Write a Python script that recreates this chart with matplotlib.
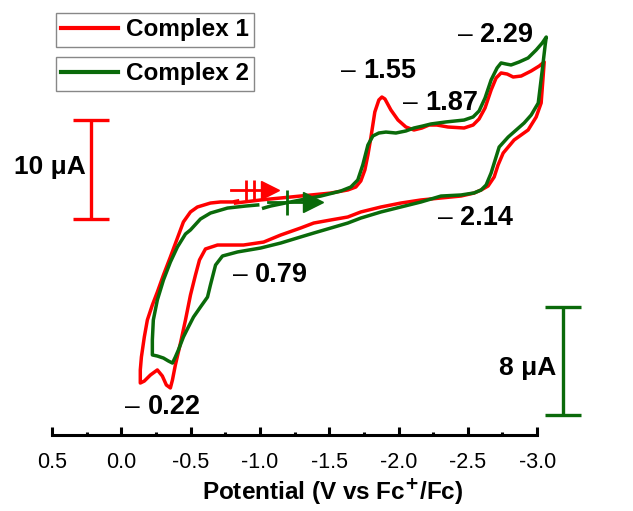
# 循环伏安图复现

import numpy as np
import matplotlib
matplotlib.use('Agg')
import matplotlib.pyplot as plt
from matplotlib.ticker import MultipleLocator

plt.rcParams['font.family'] = ['Liberation Sans', 'DejaVu Sans']

# 1 数据
# Complex 1：电位(V vs Fc+/Fc)与电流(μA)
e1 = [-0.824, -1.005, -1.294, -1.511, -1.634, -1.692, -1.728, -1.757, -1.779, -1.800,
      -1.829, -1.858, -1.880, -1.902, -1.945, -1.996, -2.053, -2.111, -2.169, -2.220,
      -2.277, -2.357, -2.473, -2.538, -2.581, -2.624, -2.668, -2.704, -2.740, -2.784,
      -2.827, -2.885, -2.957, -3.015, -3.051,
      -3.044, -3.029, -2.993, -2.935, -2.834, -2.755, -2.718, -2.690, -2.646, -2.596,
      -2.545, -2.451, -2.306, -2.162, -2.017, -1.873, -1.728, -1.634, -1.511, -1.388,
      -1.294, -1.150, -1.027, -0.882, -0.694, -0.607, -0.564, -0.535, -0.499, -0.463,
      -0.427, -0.390, -0.369, -0.354, -0.325, -0.296, -0.260, -0.210, -0.166, -0.137,
      -0.137, -0.145, -0.166, -0.188, -0.224, -0.260, -0.304, -0.354, -0.405, -0.448,
      -0.499, -0.549, -0.643, -0.716, -0.803, -0.839]
i1 = [23.43, 23.74, 24.14, 24.44, 24.75, 25.05, 25.66, 26.77, 28.28, 30.00,
      32.63, 33.84, 34.14, 33.94, 32.83, 31.82, 31.11, 30.81, 31.01, 31.31,
      31.31, 31.11, 31.01, 31.31, 31.92, 33.03, 34.85, 36.06, 36.57, 36.46,
      36.16, 36.26, 36.77, 37.27, 37.68,
      36.36, 33.54, 32.12, 30.81, 29.80, 28.48, 27.27, 26.06, 25.15, 24.75,
      24.44, 24.14, 23.94, 23.74, 23.43, 23.03, 22.53, 22.02, 21.72, 21.41,
      20.91, 20.20, 19.49, 19.19, 19.19, 18.79, 17.68, 16.16, 14.14, 11.62,
      9.29, 7.07, 5.56, 4.75, 5.05, 5.96, 6.57, 6.06, 5.45, 5.25,
      6.57, 7.88, 9.90, 11.62, 13.13, 14.44, 16.16, 17.98, 19.90, 21.52,
      22.53, 23.03, 23.43, 23.54, 23.54, 23.64]

# Complex 2：电位与电流(μA)
e2 = [-1.027, -1.077, -1.186, -1.294, -1.439, -1.583, -1.656, -1.706, -1.742, -1.779,
      -1.815, -1.858, -1.909, -1.981, -2.053, -2.111, -2.176, -2.234, -2.343, -2.473,
      -2.538, -2.581, -2.624, -2.668, -2.711, -2.740, -2.776, -2.812, -2.870, -2.935,
      -2.993, -3.037, -3.066,
      -3.058, -3.037, -3.008, -2.957, -2.906, -2.791, -2.726, -2.697, -2.668, -2.632,
      -2.596, -2.545, -2.451, -2.306, -2.162, -2.017, -1.873, -1.728, -1.634, -1.511,
      -1.388, -1.294, -1.150, -1.005, -0.839, -0.730, -0.680, -0.643, -0.622, -0.571,
      -0.521, -0.484, -0.448, -0.412, -0.390, -0.369, -0.340, -0.304, -0.260, -0.224,
      -0.224, -0.231, -0.260, -0.304, -0.354, -0.405, -0.463, -0.499, -0.571, -0.643,
      -0.766, -0.897, -0.984]
i2 = [16.81, 16.96, 17.19, 17.41, 17.70, 18.07, 18.37, 18.89, 20.00, 21.48,
      22.15, 22.37, 22.44, 22.37, 22.52, 22.74, 22.89, 23.04, 23.19, 23.33,
      23.56, 24.00, 24.96, 26.30, 27.19, 27.56, 27.48, 27.41, 27.63, 27.93,
      28.52, 29.04, 29.48,
      28.89, 27.04, 24.59, 23.70, 23.11, 22.07, 21.33, 20.37, 19.41, 18.52,
      18.15, 17.93, 17.78, 17.70, 17.26, 16.89, 16.52, 16.07, 15.70, 15.33,
      14.96, 14.67, 14.22, 13.85, 13.56, 13.26, 12.59, 11.11, 10.22, 9.48,
      8.74, 8.00, 7.26, 6.30, 5.78, 5.33, 5.48, 5.70, 5.85, 5.93,
      7.04, 8.52, 10.00, 11.48, 12.81, 13.93, 14.89, 15.19, 16.00, 16.44,
      16.81, 16.96, 17.04]

# 两条曲线的电流标尺不同：10 μA 与 8 μA 的标尺条长度
scale1 = 1.0
scale2 = 13.5 / 9.9

peak_labels = ['0.22', '0.79', '2.14', '1.87', '1.55', '2.29']
peak_pos = [(-0.029, 2.83), (-0.803, 16.16), (-2.285, 21.92),
            (-2.032, 33.54), (-1.584, 36.77), (-2.430, 40.40)]

xticks = [0.5, 0.0, -0.5, -1.0, -1.5, -2.0, -2.5, -3.0]
xticklabels = ['0.5', '0.0', '-0.5', '-1.0', '-1.5', '-2.0', '-2.5', '-3.0']

red = '#ff0000'
green = '#0a6a0a'

# 2 画图
fig = plt.figure(figsize=(6.33, 5.11), dpi=100)
ax = fig.add_axes([52/633, 76/511, 499/633, 435/511])

y1 = np.array(i1) * scale1
y2 = np.array(i2) * scale2
l1, = ax.plot(e1, y1, color=red, lw=2.5, clip_on=False, solid_joinstyle='round')
l2, = ax.plot(e2, y2, color=green, lw=2.5, clip_on=False, solid_joinstyle='round')

# 扫描方向箭头
ax.plot([-0.788, -1.063], [24.75, 24.75], color=red, lw=2, clip_on=False)
ax.plot([-0.897, -0.954], [24.75, 24.75], ls='none', marker='|', ms=14, mew=2, color=red)
ax.plot([-1.070], [24.75], ls='none', marker='>', ms=13, color=red)
ax.plot([-1.056, -1.367], [23.54, 23.54], color=green, lw=2, clip_on=False)
ax.plot([-1.193], [23.54], ls='none', marker='|', ms=18, mew=2, color=green)
ax.plot([-1.382], [23.54], ls='none', marker='>', ms=15, color=green)

# 标尺条
ax.errorbar([0.217], [21.82 + 5 * scale1], yerr=[5 * scale1], color=red, lw=2.4,
            capsize=13, capthick=2.4, clip_on=False)
ax.text(0.26, 27.07, '10 \u03bcA', ha='right', va='center', fontsize=19, fontweight='bold')
ax.errorbar([-3.189], [2.02 + 4 * scale2], yerr=[4 * scale2], color=green, lw=2.4,
            capsize=13, capthick=2.4, clip_on=False)
ax.text(-3.138, 6.77, '8 \u03bcA', ha='right', va='center', fontsize=19, fontweight='bold')

# 峰值标注：细横线 + 粗体数字
for txt, (x, y) in zip(peak_labels, peak_pos):
    ax.text(x, y, '\u2013', ha='left', va='center', fontsize=19)
    ax.text(x - 0.16, y, txt, ha='left', va='center', fontsize=19.5, fontweight='bold')

ax.set_xlim(0.5, -3.1)
ax.set_ylim(0, 435/9.9)
for s in ['left', 'right', 'top']:
    ax.spines[s].set_visible(False)
ax.spines['bottom'].set_bounds(-3.0, 0.5)
ax.spines['bottom'].set_linewidth(2.2)
ax.set_yticks([])
ax.set_xticks(xticks)
ax.set_xticklabels(xticklabels, fontsize=15.5)
ax.xaxis.set_minor_locator(MultipleLocator(0.25))
ax.tick_params(axis='x', which='major', direction='in', length=6, width=2.2, pad=12)
ax.tick_params(axis='x', which='minor', direction='in', length=2.5, width=2.2)
ax.set_xlabel('Potential (V vs Fc$^{\\mathbf{+}}$/Fc)', fontsize=17.5, fontweight='bold')
ax.xaxis.set_label_coords((333 - 52) / 499, -0.095)
ax.patch.set_visible(False)

# 两个分开的图例框
leg_kw = dict(loc='upper left', prop={'weight': 'bold', 'size': 17.5},
              frameon=True, fancybox=False, edgecolor='#888888', framealpha=1,
              handlelength=2.35, handletextpad=0.3, borderpad=0.22, borderaxespad=0)
leg1 = fig.legend([l1], ['Complex 1'], bbox_to_anchor=(56/633, 1 - 13/511), **leg_kw)
leg2 = fig.legend([l2], ['Complex 2'], bbox_to_anchor=(56/633, 1 - 57/511), **leg_kw)
for lg in (leg1, leg2):
    lg.get_frame().set_linewidth(1.0)
    for ln in lg.get_lines():
        ln.set_linewidth(3)

fig.savefig('out.png', dpi=100)
